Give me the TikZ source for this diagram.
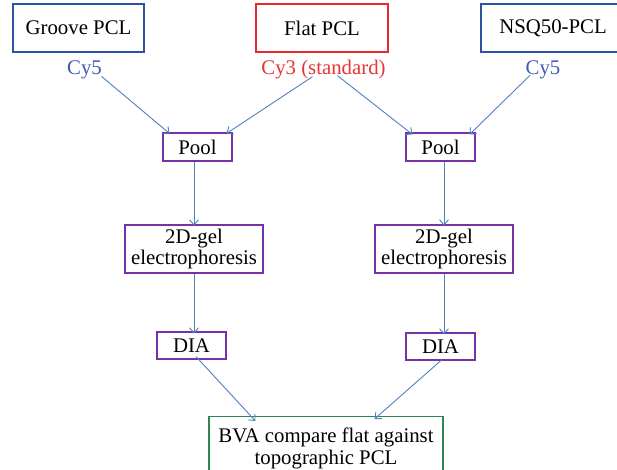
\documentclass[tikz,border=0pt]{standalone}
\usepackage{fontspec}
\setmainfont{Liberation Serif}
\usetikzlibrary{arrows.meta}
\definecolor{boxblue}{RGB}{47,82,160}
\definecolor{boxred}{RGB}{235,40,44}
\definecolor{boxpurple}{RGB}{118,50,168}
\definecolor{boxgreen}{RGB}{46,135,80}
\definecolor{linkblue}{RGB}{79,129,189}
\definecolor{dyeblue}{RGB}{62,92,178}
\definecolor{dyered}{RGB}{232,52,52}
\tikzset{
  txt/.style={font=\fontsize{20.8}{21}\selectfont, inner sep=0pt, align=center},
  sample/.style={txt, draw, line width=1.1pt, minimum width=131pt, minimum height=48pt},
  procbox/.style={txt, draw=boxpurple, line width=1.1pt},
  dye/.style={txt},
  link/.style={draw=linkblue, line width=0.9pt, -{Straight Barb[length=5pt,width=9pt]}},
}
\begin{document}
\begin{tikzpicture}[x=1pt,y=-1pt]
\useasboundingbox (0,0) rectangle (617,469);

% sample boxes
\node[sample, draw=boxblue] (groove) at (78.5,28) {Groove PCL};
\node[sample, draw=boxred, minimum width=132pt] (flat) at (322,28) {Flat PCL};
\node[sample, draw=boxblue, minimum width=144pt] (nsq) at (553,28) {NSQ50-PCL};

% dye labels
\node[dye, text=dyeblue] (cyL) at (84.5,70) {Cy5};
\node[dye, text=dyered] (cyF) at (323.5,70) {Cy3 (standard)};
\node[dye, text=dyeblue] (cyR) at (543,70) {Cy5};

% left branch
\node[procbox, minimum width=69pt, minimum height=28pt] (poolL) at (197.5,147) {Pool};
\node[procbox, minimum width=138pt, minimum height=48pt] (gelL) at (194,249) {2D-gel\\electrophoresis};
\node[procbox, minimum width=69pt, minimum height=27pt] (diaL) at (191.5,345.5) {DIA};

% right branch
\node[procbox, minimum width=69pt, minimum height=28pt] (poolR) at (440.5,147) {Pool};
\node[procbox, minimum width=138pt, minimum height=48pt] (gelR) at (444,249) {2D-gel\\electrophoresis};
\node[procbox, minimum width=69pt, minimum height=27pt] (diaR) at (440.5,346.5) {DIA};

% comparison box (runs past the lower edge)
\node[txt, draw=boxgreen, line width=1.1pt, minimum width=234pt, minimum height=64pt,
      anchor=north] (bva) at (326,416) {BVA compare flat against\\[1.5pt]topographic PCL};

% connectors
\draw[link] ([xshift=17pt,yshift=3pt]cyL.south) -- ([xshift=7pt,yshift=-1pt]poolL.north west);
\draw[link] ([xshift=-11pt,yshift=3pt]cyF.south) -- ([xshift=-6pt,yshift=-1pt]poolL.north east);
\draw[link] ([xshift=14pt,yshift=4pt]cyF.south) -- ([xshift=7pt,yshift=-2pt]poolR.north west);
\draw[link] ([xshift=-13pt,yshift=4pt]cyR.south) -- ([xshift=-6pt,yshift=-2pt]poolR.north east);

\draw[link] ([xshift=-3.5pt]poolL.south) -- ([xshift=-3.5pt,yshift=-1pt]gelL.north -| poolL.south);
\draw[link] (poolR.south -| gelR.north) -- ([yshift=-1pt]gelR.north);
\draw[link] (gelL.south) -- ([yshift=-2pt]gelL.south |- diaL.north);
\draw[link] (gelR.south) -- ([yshift=-2pt]gelR.south |- diaR.north);

\draw[link] ([xshift=4.5pt,yshift=3pt]diaL.south) -- ([xshift=47pt,yshift=-5pt]bva.north west);
\draw[link] ([xshift=1.5pt,yshift=1pt]diaR.south) -- ([xshift=-69pt,yshift=-3pt]bva.north east);
\end{tikzpicture}
\end{document}
